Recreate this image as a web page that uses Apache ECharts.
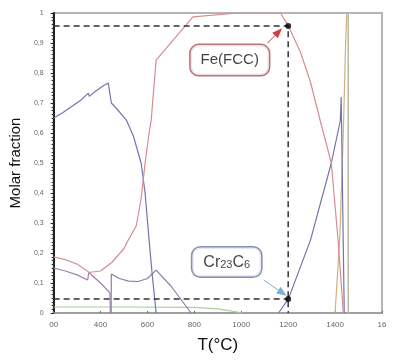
<!DOCTYPE html>
<html>
<head>
<meta charset="utf-8">
<script src="https://cdn.jsdelivr.net/npm/echarts@6/dist/echarts.min.js"></script>
<style>html,body{margin:0;padding:0;background:#fff;}#c{width:399px;height:360px;}</style>
</head>
<body>
<div id="c"></div>
<script>
// ---- data (T in °C, molar fraction) ----
const xTicks = [200, 400, 600, 800, 1000, 1200, 1400, 1600];
const xTickText = ['00', '400', '600', '800', '1000', '1200', '1400', '16'];
const yTicks = [0, 0.1, 0.2, 0.3, 0.4, 0.5, 0.6, 0.7, 0.8, 0.9, 1];
const yTickText = ['0', '0,1', '0,2', '0,3', '0,4', '0,5', '0,6', '0,7', '0,8', '0,9', '1'];

const bccLow = [[200,0.65],[240,0.668],[280,0.69],[320,0.712],[348,0.733],[352,0.722],[380,0.74],[410,0.757],[433,0.767],[446,0.70],[470,0.68],[510,0.643],[540,0.59],[573,0.50],[590,0.40],[607,0.243],[620,0.13],[637,0]];
const fcc = [[350,0.135],[400,0.14],[450,0.17],[500,0.215],[518,0.243],[552,0.29],[573,0.38],[590,0.5],[607,0.6],[616,0.643],[637,0.843],[794,0.987],[985,1.0],[1167,1.0],[1201,0.957],[1252,0.87],[1295,0.77],[1337,0.64],[1384,0.50],[1413,0.24],[1426,0.1],[1435,0]];
const carbideA = [[200,0.187],[250,0.178],[300,0.163],[350,0.137]];
const carbideB = [[200,0.15],[250,0.14],[300,0.127],[345,0.11],[350,0.135],[400,0.1],[440,0.067],[442,0]];
const carbideC = [[445,0],[446,0.13],[480,0.115],[520,0.106],[560,0.105],[600,0.115],[637,0.143],[700,0.09],[786,0]];
const bccHigh = [[1159,0],[1201,0.047],[1295,0.243],[1384,0.50],[1422,0.64],[1426,0.72],[1439,0]];
const minor = [[200,0.02],[500,0.02],[800,0.019],[900,0.014],[960,0.006],[1006,0]];
const liquid = [[1400,0],[1420,0.25],[1435,0.6],[1445,0.9],[1450,1.0]];
const liquid2 = [[1456,0],[1456,1.0]];

const refT = 1200;
const refFCC = 0.957;
const refCr = 0.047;

const chart = echarts.init(document.getElementById('c'), null, {renderer: 'canvas'});

function lineS(name, data, color, w) {
  return {name, type: 'line', data, symbol: 'none', smooth: false, z: 3,
    lineStyle: {color, width: w || 1.2}, animation: false};
}

const option = {
  animation: false,
  grid: {left: 52, right: 17, top: 13, bottom: 47, show: true, borderColor: '#b5b5b5', borderWidth: 2},
  xAxis: {
    type: 'value', min: 200, max: 1600, interval: 200,
    name: 'T(°C)', nameLocation: 'middle', nameGap: 24,
    nameTextStyle: {fontFamily: 'Liberation Sans', fontSize: 17, color: '#111'},
    axisLine: {lineStyle: {color: '#999', width: 1.5}},
    axisTick: {show: true, length: 2, inside: true, lineStyle: {color: '#666'}},
    axisLabel: {fontFamily: 'Liberation Sans', fontSize: 8, color: '#666', margin: 8,
      formatter: v => { const i = xTicks.indexOf(v); return i >= 0 ? xTickText[i] : ''; }},
    splitLine: {show: false}
  },
  yAxis: {
    type: 'value', min: 0, max: 1, interval: 0.1,
    name: 'Molar fraction', nameLocation: 'middle', nameGap: 28, nameRotate: 90,
    nameTextStyle: {fontFamily: 'Liberation Sans', fontSize: 15, color: '#111'},
    axisLine: {show: true, lineStyle: {color: '#222', width: 2}},
    axisTick: {show: true, length: 3, lineStyle: {color: '#222'}},
    minorTick: {show: true, splitNumber: 8, length: 2, lineStyle: {color: '#333'}},
    axisLabel: {fontFamily: 'Liberation Sans', fontSize: 7, color: '#666', margin: 10,
      formatter: v => { const i = yTicks.findIndex(t => Math.abs(t - v) < 1e-6); return i >= 0 ? yTickText[i] : ''; }},
    splitLine: {show: false}
  },
  series: [
    lineS('minor', minor, '#a9cfa0'),
    lineS('liquid2', liquid2, '#b8b8a8', 1.5),
    lineS('liquid', liquid, '#d2b07a'),
    lineS('carbideA', carbideA, '#d8959a'),
    lineS('carbideB', carbideB, '#9c82aa'),
    lineS('carbideC', carbideC, '#8c7ca8'),
    lineS('bccLow', bccLow, '#7274ad'),
    lineS('bccHigh', bccHigh, '#7274ad'),
    lineS('fcc', fcc, '#d88c92'),
    {
      name: 'refFCC', type: 'line', symbol: 'none', z: 5,
      data: [[200, refFCC], [refT, refFCC], [refT, 0]],
      lineStyle: {color: '#333', width: 1.5, type: [6, 4]}
    },
    {
      name: 'refCr', type: 'line', symbol: 'none', z: 5,
      data: [[200, refCr], [refT, refCr]],
      lineStyle: {color: '#333', width: 1.5, type: [6, 4]}
    },
    {
      name: 'dots', type: 'scatter', z: 6, symbolSize: 6,
      itemStyle: {color: '#000'},
      data: [[refT, refFCC], [refT, refCr]]
    },
    {
      name: 'labels', type: 'scatter', z: 7, symbolSize: 0,
      data: [
        {value: [951, 0.843], label: {show: true, position: 'inside', formatter: 'Fe(FCC)',
          fontFamily: 'Liberation Sans', fontSize: 15, color: '#111',
          backgroundColor: '#fff', borderColor: '#a8505a', borderWidth: 1.5, borderRadius: 8,
          padding: [8, 10, 7, 10]}},
        {value: [938, 0.17], label: {show: true, position: 'inside',
          formatter: '{a|Cr}{s|23}{a|C}{s|6}',
          backgroundColor: '#fff', borderColor: '#6a70a0', borderWidth: 1.5, borderRadius: 8,
          padding: [7, 11, 6, 11],
          rich: {a: {fontFamily: 'Liberation Sans', fontSize: 16, color: '#111', verticalAlign: 'bottom'},
                 s: {fontFamily: 'Liberation Sans', fontSize: 11, color: '#111', verticalAlign: 'bottom', padding: [0, 0, 0, 0]}}}}
      ],
      markLine: {
        silent: true, symbol: ['none', 'triangle'], symbolSize: [8, 10],
        label: {show: false},
        data: [
          [{coord: [1112, 0.90], lineStyle: {color: '#d04040', width: 1, type: 'solid'}, itemStyle: {color: '#d02020'}}, {coord: [1159, 0.937]}],
          [{coord: [1095, 0.11], lineStyle: {color: '#7ab0d8', width: 1, type: 'solid'}, itemStyle: {color: '#2a88d0'}}, {coord: [1176, 0.067]}]
        ]
      }
    }
  ]
};
chart.setOption(option);
</script>
</body>
</html>
